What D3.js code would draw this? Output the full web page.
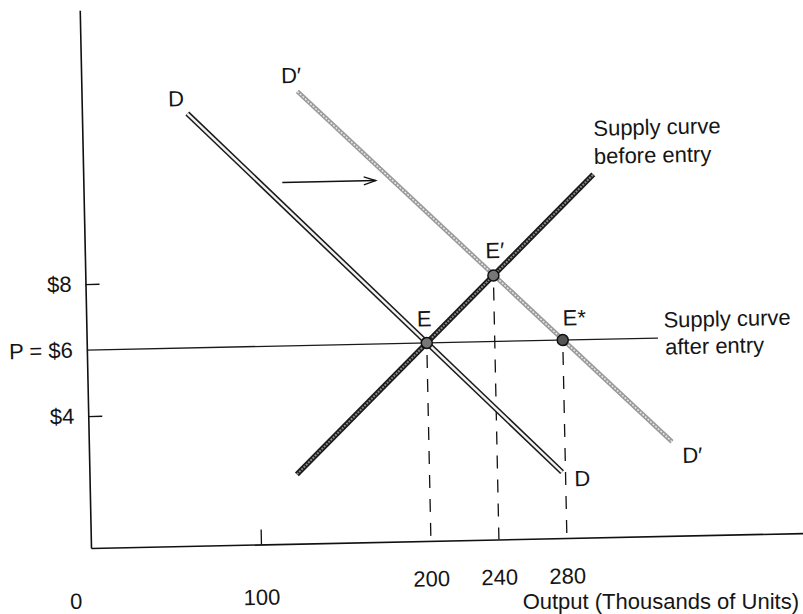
<!DOCTYPE html>
<html>
<head>
<meta charset="utf-8">
<script src="https://cdn.jsdelivr.net/npm/d3@7"></script>
<style>
  html, body { margin: 0; padding: 0; background: #fff; }
  svg { display: block; }
  text { font-family: "Liberation Sans", Arial, Helvetica, sans-serif; fill: #151515; }
</style>
</head>
<body>
<svg id="chart" width="803" height="614"></svg>
<script>
// ---- data ----
const priceTicks = [8, 6, 4];
const priceTickLabels = ["$8", "P = $6", "$4"];
const outputTicks = [0, 100, 200, 240, 280];
const outputTickLabels = ["0", "100", "200", "240", "280"];
const demandD = [[62, 13.1], [278, 2.0]];
const demandDPrime = [[127, 13.7], [343, 2.85]];
const supplyBefore = [[122, 2.1], [300, 11]];
const supplyAfter = [[0, 6], [336, 6]];
const equilibria = [
  { name: "E", q: 200, p: 6 },
  { name: "E\u2032", q: 240, p: 8 },
  { name: "E*", q: 280, p: 6 }
];
const shiftArrow = [[117, 10.95], [172, 10.95]];

// ---- layout ----
const svg = d3.select("#chart");
const ox = 91, oy = 548;
const x = d3.scaleLinear().domain([0, 420]).range([ox, ox + 1.7 * 420]);
const y = d3.scaleLinear().domain([0, 16.3]).range([oy, oy - 33 * 16.3]);
const g = svg.append("g").attr("transform", `rotate(-1.2, ${ox}, ${oy})`);
const line = d3.line().x(d => x(d[0])).y(d => y(d[1]));

// axes
const xAxis = d3.axisBottom(x).tickValues([100]).tickSize(-15).tickSizeOuter(0).tickFormat("");
const yAxis = d3.axisLeft(y).tickValues([8, 4]).tickSize(-14).tickSizeOuter(0).tickFormat("");
const gx = g.append("g").attr("transform", `translate(0,${oy})`).call(xAxis);
const gy = g.append("g").attr("transform", `translate(${ox},0)`).call(yAxis);
[gx, gy].forEach(a => {
  a.select(".domain").attr("stroke", "#111").attr("stroke-width", 1.6);
  a.selectAll(".tick line").attr("stroke", "#111").attr("stroke-width", 1.3);
});

// horizontal supply after entry
g.append("path").attr("d", line(supplyAfter)).attr("fill", "none")
  .attr("stroke", "#1a1a1a").attr("stroke-width", 1.3);

// dashed drop lines
g.selectAll(".drop").data(equilibria).enter().append("line")
  .attr("x1", d => x(d.q)).attr("x2", d => x(d.q))
  .attr("y1", d => y(d.p) + 12).attr("y2", y(0))
  .attr("stroke", "#111").attr("stroke-width", 1.3).attr("stroke-dasharray", "13,11");

// D' (stippled gray)
g.append("path").attr("d", line(demandDPrime)).attr("fill", "none")
  .attr("stroke", "#9a9a9a").attr("stroke-width", 4.5);
g.append("path").attr("d", line(demandDPrime)).attr("fill", "none")
  .attr("stroke", "#e6e6e6").attr("stroke-width", 1.6).attr("stroke-dasharray", "2,1.5");

// D (double line)
g.append("path").attr("d", line(demandD)).attr("fill", "none")
  .attr("stroke", "#1a1a1a").attr("stroke-width", 5.5);
g.append("path").attr("d", line(demandD)).attr("fill", "none")
  .attr("stroke", "#f2f2f2").attr("stroke-width", 2.4);

// supply before entry (dark double line with gray core)
g.append("path").attr("d", line(supplyBefore)).attr("fill", "none")
  .attr("stroke", "#1a1a1a").attr("stroke-width", 5.5);
g.append("path").attr("d", line(supplyBefore)).attr("fill", "none")
  .attr("stroke", "#8a8a8a").attr("stroke-width", 2).attr("stroke-dasharray", "2,1.2");

// arrow
g.append("path").attr("d", line(shiftArrow)).attr("stroke", "#111").attr("stroke-width", 1.5).attr("fill", "none");
const ax = x(shiftArrow[1][0]), ay = y(shiftArrow[1][1]);
g.append("path").attr("d", `M${ax - 12},${ay - 4} L${ax},${ay} L${ax - 12},${ay + 4}`)
  .attr("stroke", "#111").attr("stroke-width", 1.3).attr("fill", "none");

// equilibrium points
g.selectAll(".pt").data(equilibria).enter().append("circle")
  .attr("cx", d => x(d.q)).attr("cy", d => y(d.p)).attr("r", 5.5)
  .attr("fill", (d, i) => i === 2 ? "#555" : "#777").attr("stroke", "#111").attr("stroke-width", 1.5);

// labels
const fs = 22;
function label(txt, px, py, anchor, parent) {
  return (parent || g).append("text").attr("x", px).attr("y", py).attr("text-anchor", anchor || "middle")
    .attr("dominant-baseline", "central").attr("font-size", fs).text(txt);
}
// curve labels
label("D", x(demandD[0][0]) - 11, y(demandD[0][1]) - 15);
label("D\u2032", x(demandDPrime[0][0]) - 6, y(demandDPrime[0][1]) - 16);
label("D", x(demandD[1][0]) + 20, y(demandD[1][1]) + 7);
label("D\u2032", x(demandDPrime[1][0]) + 20, y(demandDPrime[1][1]) + 14);
// equilibrium labels
const eOff = [[-2, -24], [2, -25], [12, -22]];
equilibria.forEach((d, i) => label(d.name, x(d.q) + eOff[i][0], y(d.p) + eOff[i][1]));
// supply labels
const sbx = x(supplyBefore[1][0]), sby = y(supplyBefore[1][1]);
label("Supply curve", sbx + 1, sby - 46, "start");
label("before entry", sbx + 1, sby - 18, "start");
const sax = x(supplyAfter[1][0]), say = y(supplyAfter[1][1]);
label("Supply curve", sax + 6, say - 18, "start");
label("after entry", sax + 7, say + 9, "start");

// y tick labels
priceTicks.forEach((v, i) => label(priceTickLabels[i], ox - 14, y(v), "end"));
// x tick labels
outputTicks.forEach((v, i) => {
  const dx = v === 0 ? -16 : 0;
  const dy = v >= 200 ? 38 : 53;
  label(outputTickLabels[i], x(v) + dx, oy + dy);
});

// axis title
label("Output (Thousands of Units)", 799, 601, "end", svg);
</script>
</body>
</html>
